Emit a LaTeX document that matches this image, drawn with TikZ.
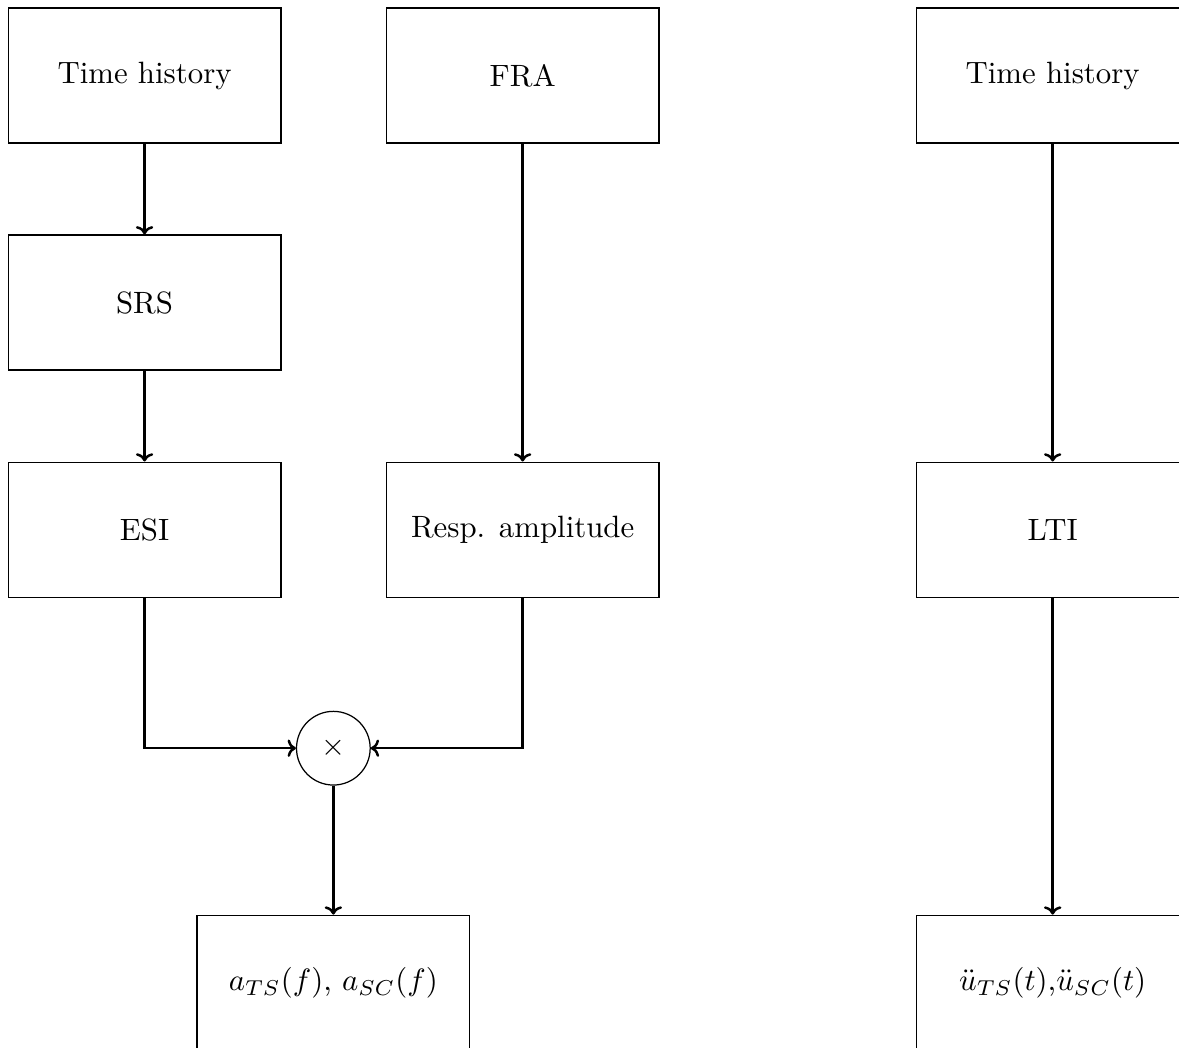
\documentclass[tikz,border=0pt]{standalone}
\usetikzlibrary{arrows.meta}

\tikzset{
    block/.style={rectangle, draw, minimum width=3.11cm, minimum height=1.54cm},
    mult/.style={circle, draw, minimum size=0.84cm, inner sep=0pt},
    line/.style={thick, -{To[scale=0.8]}}
}

\begin{document}
\begin{tikzpicture}
        \useasboundingbox (0,0) rectangle (13.44,-11.94);

        % Colonna SRS
        \node (th1) at (1.648,-0.861) [block] {Time history};
        \node (srs) at (1.648,-3.449) [block] {SRS};
        \node (esi) at (1.648,-6.038) [block] {ESI};

        % Colonna FRA
        \node (fra) at (5.958,-0.861) [block] {FRA};
        \node (resp) at (5.958,-6.038) [block] {Resp. amplitude};

        % Prodotto
        \node (prod) at (3.80,-8.529) [mult] {$\times$};
        \node (outf) at (3.80,-11.203) [block] {$a_{TS}(f)$, $a_{SC}(f)$};

        % Colonna LTI
        \node (th2) at (12.0,-0.861) [block] {Time history};
        \node (lti) at (12.0,-6.038) [block] {LTI};
        \node (outt) at (12.0,-11.203) [block] {$\ddot{u}_{TS}(t)$,$\ddot{u}_{SC}(t)$};

        % Collegamenti
        \draw[line] (th1) -- (srs);
        \draw[line] (srs) -- (esi);
        \draw[line] (fra) -- (resp);
        \draw[line] (esi.south) |- (prod.west);
        \draw[line] (resp.south) |- (prod.east);
        \draw[line] (prod) -- (outf);
        \draw[line] (th2) -- (lti);
        \draw[line] (lti) -- (outt);
    \end{tikzpicture}
\end{document}
